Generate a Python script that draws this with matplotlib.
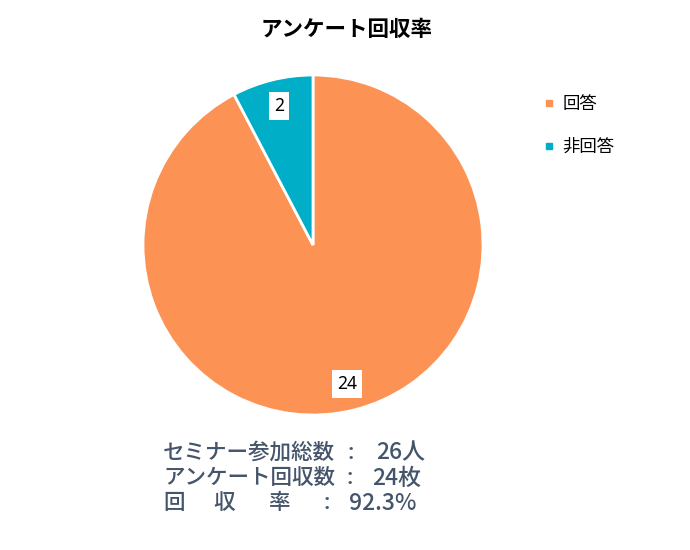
import matplotlib
matplotlib.use("Agg")
import matplotlib.pyplot as plt
from matplotlib.lines import Line2D

plt.rcParams['font.family'] = ['Noto Sans CJK JP', 'DejaVu Sans']

title = "アンケート回収率"
categories = ["回答", "非回答"]
values = [24, 2]
colors = ["#FC9253", "#00AEC7"]

info_labels = ["セミナー参加総数", "アンケート回収数"]
info_values = ["26人", "24枚"]
rate_chars = ["回", "収", "率"]
rate_value = "92.3%"

W, H = 690, 550
fig = plt.figure(figsize=(W / 100, H / 100), dpi=100)
fig.patch.set_facecolor("white")

cx, cy, r = 313, 245, 170
ax = fig.add_axes([(cx - r) / W, (H - cy - r) / H, 2 * r / W, 2 * r / H])
wedges, texts = ax.pie(values, colors=colors, startangle=90, counterclock=False,
                       labels=[str(v) for v in values], labeldistance=0.84,
                       wedgeprops=dict(edgecolor="white", linewidth=2),
                       textprops=dict(fontsize=12.5, family=['Noto Sans', 'DejaVu Sans'],
                                      color="black"))
for t in texts:
    t.set_ha("center")
    t.set_va("center")
    t.set_bbox(dict(facecolor="white", edgecolor="none", pad=3.5))
ax.set_xlim(-1, 1)
ax.set_ylim(-1, 1)
ax.set_aspect("equal")
ax.axis("off")

fig.text(347 / W, 1 - 29 / H, title, ha="center", va="center",
         fontsize=15.5, fontweight="bold", color="black")

handles = [Line2D([0], [0], marker="s", linestyle="none", markersize=5,
                  markerfacecolor=c, markeredgecolor=c) for c in colors]
fig.legend(handles, categories, loc="upper left",
           bbox_to_anchor=(540 / W, 1 - 95 / H), frameon=False,
           fontsize=12.5, labelspacing=1.45, handletextpad=0.3, handlelength=1.0,
           borderaxespad=0, borderpad=0)

tc = "#44546A"
fs = 15.5
fs_val = 16.5
ys = [453, 478, 503]
colon_x = [351, 350, 327]
val_x = [376, 372, 349]
for i, (lab, val) in enumerate(zip(info_labels, info_values)):
    y = 1 - ys[i] / H
    fig.text(163 / W, y, lab, ha="left", va="center", fontsize=fs, color=tc,
             fontweight="medium")
    fig.text(colon_x[i] / W, y, ":", ha="center", va="center", fontsize=fs, color=tc,
             fontweight="medium")
    fig.text(val_x[i] / W, y, val, ha="left", va="center", fontsize=fs_val, color=tc,
             fontweight="medium")
y = 1 - ys[2] / H
for ch, x in zip(rate_chars, [163, 213, 268]):
    fig.text(x / W, y, ch, ha="left", va="center", fontsize=fs, color=tc,
             fontweight="medium")
fig.text(colon_x[2] / W, y, ":", ha="center", va="center", fontsize=fs, color=tc,
         fontweight="medium")
fig.text(val_x[2] / W, y, rate_value, ha="left", va="center", fontsize=fs_val, color=tc,
         fontweight="medium")

fig.savefig("out.png", dpi=100, facecolor="white")
